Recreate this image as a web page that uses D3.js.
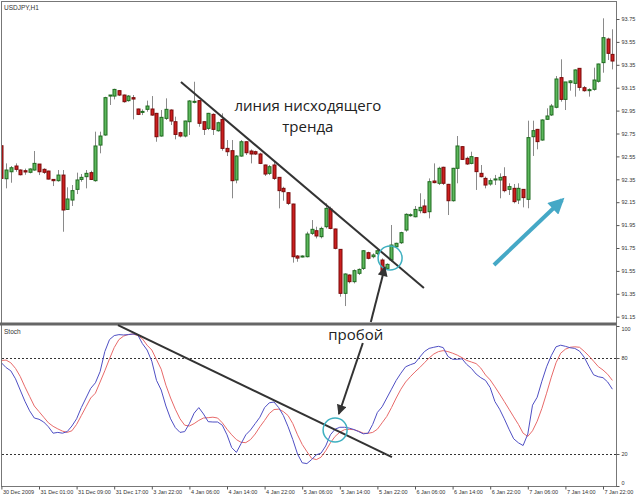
<!DOCTYPE html>
<html><head><meta charset="utf-8">
<script src="https://cdn.jsdelivr.net/npm/d3@7"></script>
<style>body{margin:0;background:#fff}svg{display:block}</style>
</head><body>
<svg id="c" width="640" height="497"></svg>
<script>
// ---------- DATA ----------
const symbolTitle = "USDJPY,H1";
const indicatorTitle = "Stoch";
const openP = [92.643,92.355,92.416,92.466,92.431,92.425,92.411,92.431,92.483,92.437,92.422,92.349,92.338,92.387,92.087,92.169,92.262,92.349,92.373,92.408,92.338,92.649,92.737,93.077,93.077,93.124,93.086,93.037,93.063,92.964,92.938,92.961,92.964,92.926,92.728,92.882,92.955,92.853,92.757,92.728,92.853,93.025,93.037,92.853,92.795,92.917,92.774,92.873,92.620,92.600,92.344,92.553,92.678,92.597,92.591,92.571,92.475,92.402,92.475,92.367,92.271,92.233,92.134,91.680,91.674,91.674,91.878,91.901,91.849,91.936,92.090,91.916,91.738,91.354,91.514,91.456,91.529,91.572,91.709,91.674,91.703,91.645,91.572,91.645,91.761,91.796,91.907,92.035,92.023,92.076,92.117,92.067,92.335,92.315,92.455,92.306,92.163,92.446,92.635,92.533,92.489,92.539,92.402,92.358,92.309,92.347,92.344,92.373,92.262,92.271,92.169,92.262,92.175,92.722,92.786,92.693,92.874,92.912,92.979,93.238,93.048,93.194,93.188,93.319,93.150,93.127,93.136,93.206,93.369,93.575,93.441];
const highP = [92.664,92.489,92.466,92.489,92.437,92.443,92.446,92.597,92.483,92.446,92.425,92.352,92.431,92.431,92.280,92.300,92.408,92.396,92.431,92.425,92.766,92.766,93.071,93.086,93.141,93.130,93.090,93.086,93.086,92.967,92.961,93.037,93.077,92.930,92.955,93.057,92.961,92.897,92.766,92.862,93.042,93.202,93.040,92.856,92.930,92.926,92.853,92.926,92.693,92.693,92.562,92.693,92.680,92.611,92.600,92.582,92.478,92.475,92.504,92.370,92.285,92.236,92.137,91.689,91.686,91.892,91.994,91.936,91.936,92.140,92.111,91.920,91.740,91.529,91.520,91.563,91.572,91.732,91.718,91.703,91.732,91.660,91.616,91.951,91.796,91.892,92.053,92.053,92.117,92.228,92.175,92.358,92.489,92.460,92.460,92.310,92.450,92.728,92.640,92.548,92.591,92.540,92.475,92.373,92.358,92.388,92.402,92.455,92.315,92.309,92.315,92.265,92.862,92.862,92.790,92.874,92.970,93.008,93.252,93.398,93.200,93.217,93.310,93.320,93.165,93.145,93.325,93.360,93.756,93.587,93.660];
const lowP = [92.344,92.271,92.320,92.416,92.384,92.390,92.402,92.425,92.387,92.396,92.349,92.291,92.329,91.892,92.082,92.117,92.221,92.329,92.271,92.344,92.329,92.577,92.730,92.999,93.048,93.077,93.019,93.028,92.873,92.911,92.911,92.940,92.905,92.678,92.722,92.868,92.824,92.699,92.716,92.716,92.737,93.013,92.809,92.737,92.780,92.737,92.766,92.600,92.553,92.184,92.315,92.547,92.562,92.489,92.562,92.483,92.379,92.387,92.344,92.096,92.163,92.125,91.622,91.630,91.668,91.668,91.863,91.834,91.834,91.921,91.913,91.738,91.325,91.243,91.441,91.441,91.514,91.558,91.651,91.660,91.689,91.534,91.563,91.630,91.756,91.785,91.892,92.023,92.018,92.053,92.053,92.009,92.315,92.300,92.300,92.038,92.155,92.315,92.519,92.475,92.481,92.257,92.367,92.271,92.294,92.300,92.184,92.236,92.213,92.140,92.134,92.105,92.097,92.554,92.612,92.687,92.868,92.903,92.970,93.028,92.955,93.124,93.072,93.124,93.115,93.072,93.124,93.194,93.281,93.392,93.310];
const closeP = [92.358,92.431,92.451,92.437,92.390,92.414,92.440,92.489,92.416,92.411,92.352,92.338,92.387,92.082,92.178,92.251,92.344,92.367,92.402,92.349,92.641,92.728,93.063,93.086,93.135,93.086,93.028,93.077,93.051,92.917,92.943,92.990,92.911,92.722,92.891,92.961,92.859,92.742,92.728,92.859,93.034,93.031,92.839,92.786,92.926,92.786,92.844,92.620,92.591,92.338,92.553,92.678,92.582,92.571,92.571,92.489,92.396,92.460,92.358,92.251,92.242,92.140,91.674,91.662,91.680,91.872,91.913,91.855,91.921,92.096,91.921,91.747,91.354,91.523,91.456,91.552,91.563,91.726,91.660,91.689,91.726,91.543,91.607,91.776,91.791,91.884,92.044,92.041,92.087,92.105,92.059,92.329,92.321,92.446,92.315,92.163,92.446,92.641,92.524,92.484,92.548,92.417,92.373,92.300,92.338,92.353,92.367,92.251,92.286,92.155,92.271,92.190,92.714,92.775,92.679,92.868,92.903,92.990,93.226,93.048,93.200,93.209,93.305,93.153,93.124,93.133,93.217,93.357,93.587,93.450,93.383];
const stochMain = [77,74,72,67,60,53,47,42.5,41.7,40,37,33,33.5,33,34,37.5,42,49,55,61,64.5,71.5,84,91.5,94,94.6,94.4,94.6,95,94.5,89,85,78,66,60,50,42,36.5,33.5,34,39,45.5,49,45,40.2,40,40,38,32,24,21,26.5,32,35,39,43,49,52,52.5,49,44,37,29,20,14.5,14,16.5,19.5,20.5,25,32,35.5,36.7,36.7,36.2,35.3,34,32.6,33,38.5,46,49.5,55,60.5,66,70.5,74.5,75.8,76.8,80.5,84,86,86.7,87.3,86.5,81,79.2,79.2,79.5,76,73.5,70,67.7,66,61.5,52.8,48,42,35.5,29.5,27,25.3,32.5,50.5,55.5,65.5,74.5,81.5,87,88,87.3,86.4,86,84.3,80.5,74.8,69.5,68.3,67.7,65,60.5];
const stochSignal = [78.5,78.7,77,73.5,68.5,62,56,50,46.5,43,39.5,37.3,35.7,34.3,33.5,34.5,38.5,44,49.5,55,58,65,72,79.5,86.5,91.5,93.7,94.7,95,94,92,88,85,79,73,63,55,48,42,38,37.5,39,41,42.5,42.7,43,42.5,39.5,35.5,32,29,27.3,27.1,29,32.5,37,41,45.3,47.8,48,46.5,44,39,32,26,21.5,17.3,16.5,18,22,27,31,33.6,35.2,35.4,35.2,34.3,33,32.9,33.5,35.5,39.5,43.5,49,55,60.5,65,68.3,71.3,74,77,80,82.5,84,84.6,84,83,81.8,80.2,78.5,77.5,76.5,73.7,69.4,66.3,62,57.5,52.8,48,43.2,38.5,33,31,34.5,40.5,48.5,58,68,77,83,85.5,86.7,87,86.7,84.2,81.3,78,74.6,72.5,69.8,66];
const priceTicks = [93.75,93.55,93.35,93.15,92.95,92.75,92.55,92.35,92.15,91.95,91.75,91.55,91.35,91.15];
const stochTicks = [100,80,20,0];
const stochLevels = [80,20];
const timeTickBars = [0,8,16,24,32,40,48,56,64,72,80,88,96,104,112,120,128];
const timeLabels = ["30 Dec 2009","31 Dec 01:00","31 Dec 09:00","31 Dec 17:00","3 Jan 22:00","4 Jan 06:00","4 Jan 14:00","4 Jan 22:00","5 Jan 06:00","5 Jan 14:00","5 Jan 22:00","6 Jan 06:00","6 Jan 14:00","6 Jan 22:00","7 Jan 06:00","7 Jan 14:00","7 Jan 22:00"];
// annotations in data space: [bar, price] / [bar, stoch]
const trendTop = [[38.2, 93.200],[89.9, 91.401]];
const breakCircleTop = [82.7, 91.663];
const trendStoch = [[24.8, 100.6],[83.1, 18.1]];
const breakCircleStoch = [71.0, 35];
const arrowUp = {from:[78.6, 91.104], to:[81.6, 91.584]};
const arrowDown = {from:[76.9, 89.4], to:[71.8, 45]};
const blueArrow = {from:[104.8, 91.602], to:[119.3, 92.169]};
const labelTrend = ["линия нисходящего","тренда"];
const labelTrendPos = [[65.2, 92.945],[65.2, 92.760]];
const labelBreak = "пробой";
const labelBreakPos = [75.4, 91.5];   // [bar, stoch value]

// ---------- LAYOUT ----------
const svg = d3.select("#c");
const plotL = 1.5, plotR = 616.5, topT = 1.5, sepY = 324, botB = 486.5;
const x = d3.scaleLinear().domain([0,130]).range([1.4, 612.4]);
const yP = d3.scaleLinear().domain([91.15, 93.75]).range([316.7, 19]);
const yS = d3.scaleLinear().domain([0,100]).range([486, 326]);
const px = i => Math.round(x(i));

const defs = svg.append("defs");
defs.append("clipPath").attr("id","clipTop").append("rect").attr("x",2).attr("y",2).attr("width",614).attr("height",320);
defs.append("clipPath").attr("id","clipBot").append("rect").attr("x",2).attr("y",326).attr("width",614).attr("height",160);
defs.append("marker").attr("id","mBlack").attr("viewBox","0 0 10 10").attr("refX",9).attr("refY",5)
  .attr("markerUnits","userSpaceOnUse").attr("markerWidth",11).attr("markerHeight",10).attr("orient","auto")
  .append("path").attr("d","M0,0 L10,5 L0,10 z").attr("fill","#333");
defs.append("marker").attr("id","mBlue").attr("viewBox","0 0 10 10").attr("refX",8).attr("refY",5)
  .attr("markerUnits","userSpaceOnUse").attr("markerWidth",17).attr("markerHeight",16).attr("orient","auto")
  .append("path").attr("d","M0,0 L10,5 L0,10 z").attr("fill","#45a8c6");

// ---------- TOP PANEL: candles ----------
const gTop = svg.append("g").attr("clip-path","url(#clipTop)");
const idx = d3.range(openP.length);
gTop.selectAll("line.wick").data(idx).join("line").attr("class","wick")
  .attr("x1",i=>px(i)+0.5).attr("x2",i=>px(i)+0.5)
  .attr("y1",i=>yP(highP[i])).attr("y2",i=>yP(lowP[i]))
  .attr("stroke","#8a8a8a").attr("stroke-width",1);
gTop.selectAll("rect.body").data(idx).join("rect").attr("class","body")
  .attr("x",i=>px(i)-1)
  .attr("width",3)
  .attr("y",i=>Math.min(yP(openP[i]),yP(closeP[i])))
  .attr("height",i=>Math.max(1,Math.abs(yP(openP[i])-yP(closeP[i]))))
  .attr("fill",i=>closeP[i]>=openP[i]?"#5cb85c":"#cc1f1f")
  .attr("stroke",i=>closeP[i]>=openP[i]?"#1f6b1f":"#7a0a0a")
  .attr("stroke-width",1);

// ---------- BOTTOM PANEL: stochastic ----------
const gBot = svg.append("g").attr("clip-path","url(#clipBot)");
gBot.selectAll("line.lvl").data(stochLevels).join("line").attr("class","lvl")
  .attr("x1",2).attr("x2",616).attr("y1",d=>Math.round(yS(d))+0.5).attr("y2",d=>Math.round(yS(d))+0.5)
  .attr("stroke","#333").attr("stroke-dasharray","2,2").attr("stroke-width",1);
const lineS = arr => d3.line().x((d,i)=>x(i)).y(d=>yS(d))(arr);
gBot.append("path").attr("d",lineS(stochSignal)).attr("fill","none").attr("stroke","#e86a6a").attr("stroke-width",1);
gBot.append("path").attr("d",lineS(stochMain)).attr("fill","none").attr("stroke","#4f4fc4").attr("stroke-width",1);

// ---------- FRAME ----------
svg.append("rect").attr("x",plotL).attr("y",topT).attr("width",plotR-plotL).attr("height",botB-topT)
  .attr("fill","none").attr("stroke","#777").attr("stroke-width",1);
svg.append("line").attr("x1",0).attr("x2",plotR).attr("y1",sepY).attr("y2",sepY)
  .attr("stroke","#666").attr("stroke-width",3);

// ---------- AXES ----------
const fontSmall = "Liberation Sans, Arial, sans-serif";
const axP = svg.append("g").attr("transform",`translate(${plotR},0)`)
  .call(d3.axisRight(yP).tickValues(priceTicks).tickFormat(d3.format(".2f")).tickSize(3).tickPadding(2));
const axS = svg.append("g").attr("transform",`translate(${plotR},0)`)
  .call(d3.axisRight(yS).tickValues(stochTicks).tickFormat(d3.format("d")).tickSize(3).tickPadding(2));
axS.selectAll(".tick").filter(d=>d===100).select("text").attr("dy","0.9em");
axS.selectAll(".tick").filter(d=>d===0).select("text").attr("dy","-0.2em");
const axT = svg.append("g").attr("transform",`translate(0,${botB})`)
  .call(d3.axisBottom(x).tickValues(timeTickBars).tickFormat((d,i)=>timeLabels[i]).tickSize(3).tickPadding(1));
[axP,axS,axT].forEach(a=>{
  a.select(".domain").remove();
  a.selectAll("line").attr("stroke","#555");
  a.selectAll("text").attr("font-family",fontSmall).attr("font-size",5.5).attr("fill","#333");
});
axT.selectAll("text").attr("text-anchor","start").attr("dx",1);

// titles
svg.append("text").attr("x",4).attr("y",10).text(symbolTitle)
  .attr("font-family",fontSmall).attr("font-size",6.5).attr("fill","#333");
svg.append("text").attr("x",4).attr("y",334).text(indicatorTitle)
  .attr("font-family",fontSmall).attr("font-size",6.5).attr("fill","#333");

// ---------- ANNOTATIONS ----------
svg.append("line").attr("x1",x(trendTop[0][0])).attr("y1",yP(trendTop[0][1]))
  .attr("x2",x(trendTop[1][0])).attr("y2",yP(trendTop[1][1])).attr("stroke","#333").attr("stroke-width",2);
svg.append("line").attr("x1",x(trendStoch[0][0])).attr("y1",yS(trendStoch[0][1]))
  .attr("x2",x(trendStoch[1][0])).attr("y2",yS(trendStoch[1][1])).attr("stroke","#333").attr("stroke-width",2);
svg.append("circle").attr("cx",x(breakCircleTop[0])).attr("cy",yP(breakCircleTop[1])).attr("r",12)
  .attr("fill","none").attr("stroke","#3fb0c0").attr("stroke-width",1.5);
svg.append("circle").attr("cx",x(breakCircleStoch[0])).attr("cy",yS(breakCircleStoch[1])).attr("r",12)
  .attr("fill","none").attr("stroke","#3fb0c0").attr("stroke-width",1.5);
svg.append("line").attr("x1",x(arrowUp.from[0])).attr("y1",yP(arrowUp.from[1]))
  .attr("x2",x(arrowUp.to[0])).attr("y2",yP(arrowUp.to[1]))
  .attr("stroke","#333").attr("stroke-width",2).attr("marker-end","url(#mBlack)");
svg.append("line").attr("x1",x(arrowDown.from[0])).attr("y1",yS(arrowDown.from[1]))
  .attr("x2",x(arrowDown.to[0])).attr("y2",yS(arrowDown.to[1]))
  .attr("stroke","#333").attr("stroke-width",2).attr("marker-end","url(#mBlack)");
svg.append("line").attr("x1",x(blueArrow.from[0])).attr("y1",yP(blueArrow.from[1]))
  .attr("x2",x(blueArrow.to[0])).attr("y2",yP(blueArrow.to[1]))
  .attr("stroke","#45a8c6").attr("stroke-width",4).attr("marker-end","url(#mBlue)");

const fontBig = "Open Sans, Noto Sans, sans-serif";
labelTrend.forEach((t,k)=>{
  svg.append("text").attr("x",x(labelTrendPos[k][0])).attr("y",yP(labelTrendPos[k][1]))
    .attr("text-anchor","middle").attr("font-family",fontBig).attr("font-size",15).attr("fill","#222").text(t);
});
svg.append("text").attr("x",x(labelBreakPos[0])).attr("y",yS(labelBreakPos[1]))
  .attr("text-anchor","middle").attr("font-family",fontBig).attr("font-size",15).attr("fill","#222").text(labelBreak);
</script>
</body></html>
